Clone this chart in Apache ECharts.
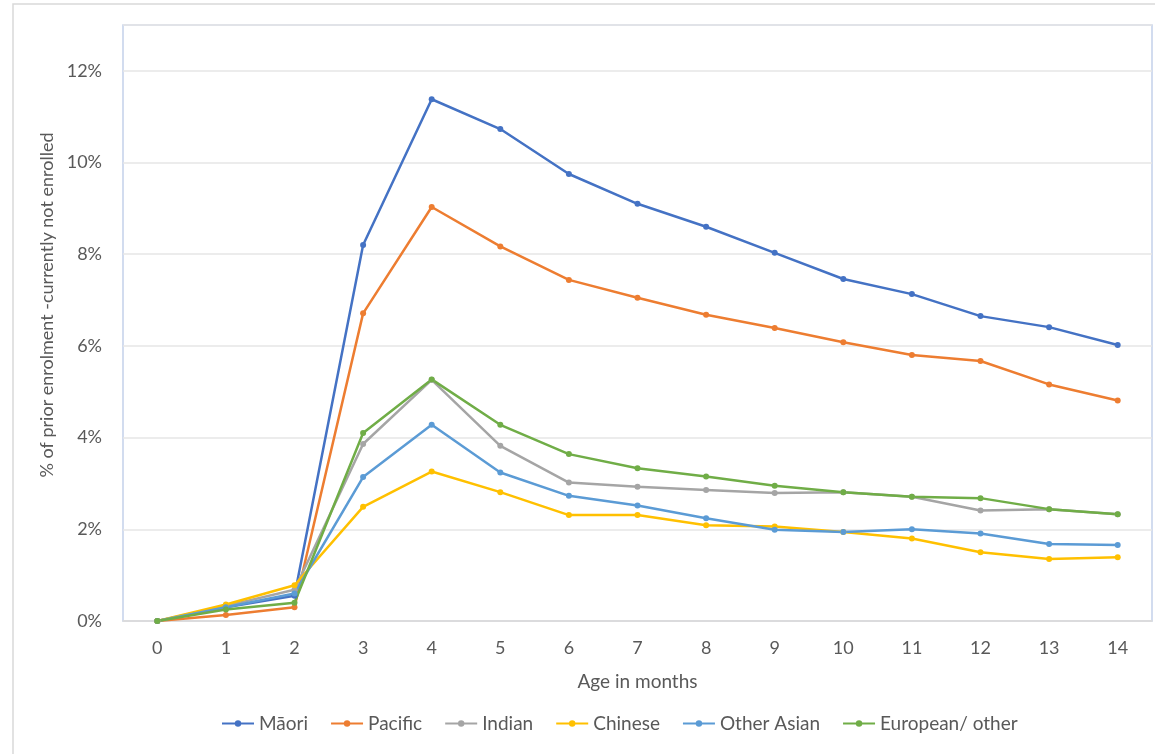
<!DOCTYPE html>
<html><head><meta charset="utf-8">
<script src="https://cdn.jsdelivr.net/npm/echarts@6/dist/echarts.min.js"></script>
<style>html,body{margin:0;padding:0;background:#fff}#c{width:1155px;height:754px}</style>
</head><body><div id="c"></div>
<script>
const ages = ['0','1','2','3','4','5','6','7','8','9','10','11','12','13','14'];
const maori    = [0, 0.30, 0.55, 8.20, 11.38, 10.73, 9.75, 9.10, 8.60, 8.03, 7.46, 7.13, 6.65, 6.41, 6.02];
const pacific  = [0, 0.13, 0.30, 6.71, 9.03, 8.17, 7.44, 7.05, 6.68, 6.39, 6.08, 5.80, 5.67, 5.16, 4.81];
const indian   = [0, 0.33, 0.68, 3.86, 5.26, 3.82, 3.02, 2.93, 2.86, 2.79, 2.81, 2.71, 2.41, 2.44, 2.33];
const chinese  = [0, 0.36, 0.78, 2.49, 3.26, 2.81, 2.31, 2.31, 2.09, 2.06, 1.94, 1.80, 1.50, 1.35, 1.39];
const otherAsian = [0, 0.30, 0.60, 3.14, 4.28, 3.24, 2.73, 2.52, 2.24, 1.99, 1.94, 2.00, 1.91, 1.68, 1.66];
const european = [0, 0.25, 0.40, 4.10, 5.27, 4.28, 3.64, 3.33, 3.15, 2.95, 2.81, 2.71, 2.68, 2.44, 2.33];
const seriesNames = ['Māori','Pacific','Indian','Chinese','Other Asian','European/ other'];
const seriesData = [maori, pacific, indian, chinese, otherAsian, european];
const colors = ['#4472C4','#ED7D31','#A5A5A5','#FFC000','#5B9BD5','#70AD47'];
const yTicks = [0,2,4,6,8,10,12];

const FONT = 'Lato, "Open Sans", sans-serif';
const chart = echarts.init(document.getElementById('c'));
chart.setOption({
  animation:false,
  backgroundColor:'#fff',
  textStyle:{fontFamily:FONT},
  color: colors,
  grid:{left:123, right:3, top:25, bottom:133, show:true, borderColor:'#c3d1ea', borderWidth:1.5, containLabel:false},
  xAxis:{
    type:'category', data:ages, boundaryGap:true,
    name:'Age in months', nameLocation:'middle', nameGap:51,
    nameTextStyle:{color:'#595959', fontSize:19, fontFamily:FONT},
    axisLine:{lineStyle:{color:'#d9d9d9', width:1.5}},
    axisTick:{show:false},
    axisLabel:{color:'#595959', fontSize:18, margin:18, fontFamily:FONT}
  },
  yAxis:{
    type:'value', min:0, max:13, interval:2,
    axisLine:{show:false}, axisTick:{show:false},
    splitLine:{lineStyle:{color:'#e6e6e6', width:1.5}},
    axisLabel:{color:'#595959', fontSize:18, margin:21, fontFamily:FONT, showMaxLabel:false,
      formatter:v=> yTicks.indexOf(v) >= 0 ? v + '%' : ''}
  },
  legend:{
    top:709, left:216, itemGap:22, itemWidth:32, itemHeight:8,
    textStyle:{color:'#595959', fontSize:19, fontFamily:FONT},
    data: seriesNames
  },
  graphic:[
    {type:'rect', shape:{x:13, y:4, width:1160, height:780}, style:{fill:'none', stroke:'#d9d9d9', lineWidth:1.5}, silent:true},
    {type:'text', x:47, y:305, rotation:Math.PI/2,
      style:{text:'% of prior enrolment -currently not enrolled', fill:'#595959', font:'18px ' + FONT, textAlign:'center', textVerticalAlign:'middle'}}
  ],
  series: seriesNames.map((n,i)=>({
    name:n, type:'line', data:seriesData[i],
    symbol:'circle', symbolSize:6, showSymbol:true,
    lineStyle:{width:2.5, color:colors[i]}, itemStyle:{color:colors[i]}
  }))
});
</script></body></html>
